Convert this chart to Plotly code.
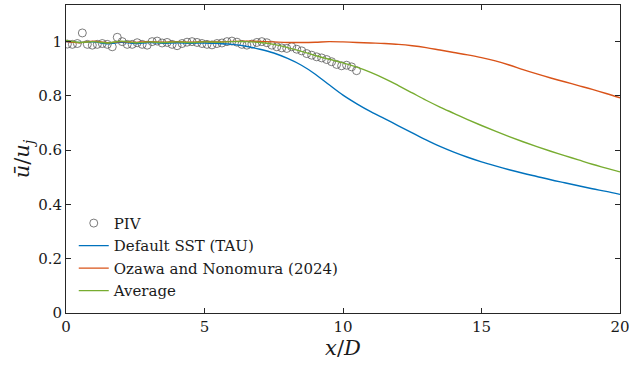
import plotly.graph_objects as go

# PIV measurements
piv_x = [0.05, 0.23, 0.41, 0.59, 0.77, 0.95, 1.13, 1.31, 1.49, 1.67, 1.85, 2.03, 2.21, 2.39, 2.57,
         2.75, 2.93, 3.11, 3.29, 3.47, 3.65, 3.83, 4.01, 4.19, 4.37, 4.55, 4.73, 4.91, 5.09, 5.27,
         5.45, 5.63, 5.81, 5.99, 6.17, 6.35, 6.53, 6.71, 6.89, 7.07, 7.25, 7.43, 7.61, 7.79, 7.97,
         8.15, 8.33, 8.51, 8.69, 8.87, 9.05, 9.23, 9.41, 9.59, 9.77, 9.95, 10.13, 10.31, 10.49]
piv_y = [0.991, 0.990, 0.993, 1.032, 0.990, 0.987, 0.990, 0.993, 0.990, 0.981, 1.016, 1.000, 0.990,
         0.990, 0.996, 0.990, 0.987, 1.000, 1.002, 0.995, 0.997, 0.990, 0.985, 0.993, 0.998, 1.000,
         0.997, 0.993, 0.990, 0.988, 0.993, 0.995, 1.000, 1.002, 0.998, 0.990, 0.987, 0.991, 0.997,
         1.000, 0.996, 0.987, 0.981, 0.977, 0.975, 0.981, 0.972, 0.966, 0.956, 0.950, 0.944, 0.940,
         0.934, 0.926, 0.916, 0.911, 0.913, 0.907, 0.893]

# simulation profiles
x_line = [0, 0.5, 1, 1.5, 2, 2.5, 3, 3.5, 4, 4.5, 5, 5.5, 6, 6.5, 7, 7.5, 8, 8.5, 9, 9.5, 10,
          10.5, 11, 11.5, 12, 12.5, 13, 13.5, 14, 14.5, 15, 15.5, 16, 16.5, 17, 17.5, 18, 18.5,
          19, 19.5, 20]
sst_default = [1.000, 0.997, 0.999, 0.992, 0.998, 0.993, 0.997, 0.994, 0.996, 0.994, 0.995, 0.993,
               0.990, 0.983, 0.972, 0.958, 0.938, 0.913, 0.880, 0.841, 0.803, 0.771, 0.742, 0.716,
               0.690, 0.664, 0.638, 0.614, 0.593, 0.574, 0.557, 0.542, 0.528, 0.515, 0.503, 0.491,
               0.480, 0.469, 0.458, 0.448, 0.437]
ozawa = [1.000, 0.996, 1.002, 0.996, 1.000, 0.997, 1.000, 0.998, 1.000, 0.998, 1.000, 0.999, 1.001,
         1.002, 1.001, 0.999, 0.997, 0.997, 0.998, 1.000, 0.999, 0.997, 0.995, 0.993, 0.990, 0.985,
         0.978, 0.969, 0.960, 0.951, 0.941, 0.929, 0.914, 0.897, 0.881, 0.866, 0.852, 0.838, 0.824,
         0.809, 0.793]
average = [1.004, 0.997, 1.000, 0.995, 1.002, 0.996, 0.999, 0.997, 0.999, 0.997, 0.999, 0.998,
           1.000, 1.000, 0.997, 0.990, 0.978, 0.964, 0.949, 0.935, 0.922, 0.906, 0.887, 0.864,
           0.838, 0.811, 0.784, 0.759, 0.736, 0.713, 0.691, 0.670, 0.650, 0.631, 0.613, 0.596,
           0.580, 0.564, 0.548, 0.534, 0.520]

x_ticks = [0, 5, 10, 15, 20]
y_ticks = [0, 0.2, 0.4, 0.6, 0.8, 1]
y_tick_labels = ["0", "0.2", "0.4", "0.6", "0.8", "1"]

FONT = "DejaVu Serif"
AX = "#262626"
TXT = "#1a1a1a"

fig = go.Figure()
fig.add_trace(go.Scatter(x=piv_x, y=piv_y, mode="markers", name="PIV",
                         marker=dict(symbol="circle-open", size=8, color="#5a5a5a",
                                     line=dict(width=0.8, color="#5a5a5a"))))
fig.add_trace(go.Scatter(x=x_line, y=sst_default, mode="lines", name="Default SST (TAU)",
                         line=dict(color="#0072BD", width=1.4, shape="spline", smoothing=1.0)))
fig.add_trace(go.Scatter(x=x_line, y=ozawa, mode="lines", name="Ozawa and Nonomura (2024)",
                         line=dict(color="#D95319", width=1.4, shape="spline", smoothing=1.0)))
fig.add_trace(go.Scatter(x=x_line, y=average, mode="lines", name="Average",
                         line=dict(color="#77AC30", width=1.4, shape="spline", smoothing=1.0)))

axis_common = dict(showgrid=False, zeroline=False, showline=True, linecolor=AX, linewidth=1,
                   mirror="ticks", ticks="inside", ticklen=5, tickcolor=AX, tickwidth=1,
                   automargin=False, ticklabeloverflow="allow",
                   tickfont=dict(family=FONT, size=15, color=TXT))

fig.update_xaxes(range=[0, 20], tickvals=x_ticks,
                 title=dict(text="<i>x</i>/<i>D</i>", font=dict(family=FONT, size=21, color=TXT),
                            standoff=4),
                 **axis_common)
fig.update_yaxes(range=[0, 1.135], tickvals=y_ticks, ticktext=y_tick_labels,
                 title=dict(text="<i>u\u0304</i>/<i>u<sub>j</sub></i>",
                            font=dict(family=FONT, size=21, color=TXT), standoff=2),
                 **axis_common)

fig.update_layout(
    width=629, height=370,
    margin=dict(l=66, r=9, t=5, b=57),
    plot_bgcolor="white", paper_bgcolor="white",
    font=dict(family=FONT, size=15, color=TXT),
    legend=dict(x=0.014, y=0.02, xanchor="left", yanchor="bottom",
                bgcolor="rgba(0,0,0,0)", borderwidth=0,
                font=dict(family=FONT, size=15, color=TXT),
                tracegroupgap=0, itemwidth=30),
)

fig.write_html("out.html")
